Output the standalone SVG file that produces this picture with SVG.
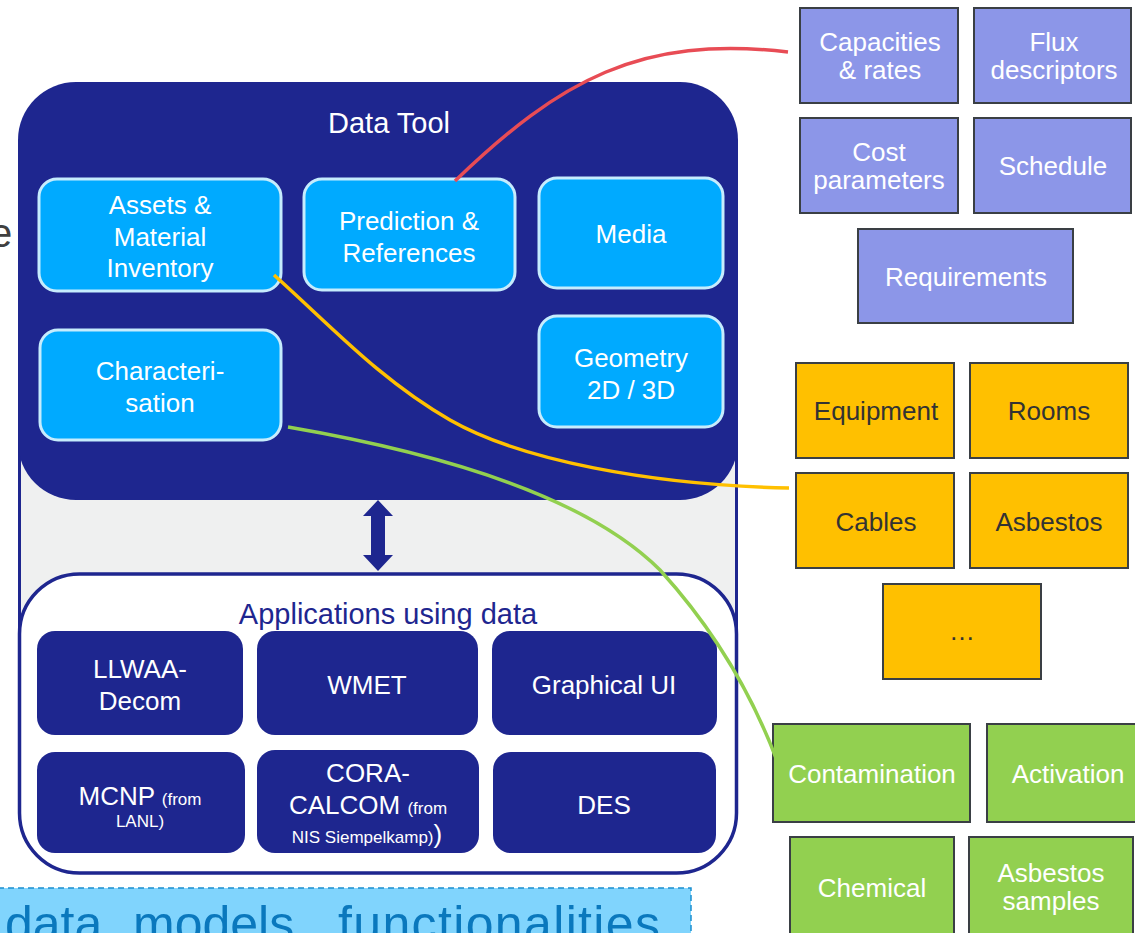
<svg xmlns="http://www.w3.org/2000/svg" width="1135" height="933" viewBox="0 0 1135 933">
<style>
text{font-family:"Liberation Sans",Arial,sans-serif;}
.wt{fill:#ffffff;font-size:26px;text-anchor:middle;}
.sm{font-size:17px;}
.dk{fill:#333333;font-size:26px;text-anchor:middle;}
.tool{fill:#00aaff;stroke:#c6ecfd;stroke-width:3;}
.app{fill:#1e268f;}
.pur{fill:#8c96e8;stroke:#3a3f44;stroke-width:2;}
.org{fill:#ffc000;stroke:#3a3f44;stroke-width:2;}
.grn{fill:#92d050;stroke:#3a3f44;stroke-width:2;}
.con{fill:none;stroke-width:3.5;stroke-linecap:butt;}
</style>
<rect width="1135" height="933" fill="#ffffff"/>
<text x="-10" y="247" style="font-size:40px;fill:#404040">e</text>

<g id="container">
<rect x="19.5" y="300" width="717" height="334" fill="#eff0f0" stroke="#1e268f" stroke-width="3"/>
</g>
<g id="data-tool">
<rect x="18" y="82" width="720" height="418" rx="58" fill="#1e268f"/>
<text x="389" y="133" style="fill:#fff;font-size:29px;text-anchor:middle">Data Tool</text>
</g>
<g id="assets">
<rect class="tool" x="39" y="179" width="242" height="112" rx="18"/>
<text class="wt" x="160" y="214">Assets &amp;</text>
<text class="wt" x="160" y="246">Material</text>
<text class="wt" x="160" y="277">Inventory</text>
</g>
<g id="prediction">
<rect class="tool" x="304" y="179" width="211" height="111" rx="18"/>
<text class="wt" x="409" y="230">Prediction &amp;</text>
<text class="wt" x="409" y="262">References</text>
</g>
<g id="media">
<rect class="tool" x="539" y="178" width="184" height="110" rx="18"/>
<text class="wt" x="631" y="243">Media</text>
</g>
<g id="characterisation">
<rect class="tool" x="40" y="330" width="241" height="110" rx="18"/>
<text class="wt" x="160" y="380">Characteri-</text>
<text class="wt" x="160" y="412">sation</text>
</g>
<g id="geometry">
<rect class="tool" x="539" y="316" width="184" height="111" rx="18"/>
<text class="wt" x="631" y="367">Geometry</text>
<text class="wt" x="631" y="399">2D / 3D</text>
</g>

<g id="double-arrow">
<polygon points="378,500 393,516 385,516 385,555 393,555 378,571 363,555 371,555 371,516 363,516" fill="#1e268f"/>
</g>

<g id="applications">
<rect x="19.5" y="574" width="717" height="299" rx="60" fill="#ffffff" stroke="#1e268f" stroke-width="3.5"/>
<text x="388" y="624" style="fill:#1e268f;font-size:29px;text-anchor:middle">Applications using data</text>
</g>
<g id="llwaa">
<rect class="app" x="37" y="631" width="206" height="104" rx="18"/>
<text class="wt" x="140" y="678">LLWAA-</text>
<text class="wt" x="140" y="710">Decom</text>
</g>
<g id="wmet">
<rect class="app" x="257" y="631" width="221" height="104" rx="18"/>
<text class="wt" x="367" y="694">WMET</text>
</g>
<g id="gui">
<rect class="app" x="492" y="631" width="225" height="104" rx="18"/>
<text class="wt" x="604" y="694">Graphical UI</text>
</g>
<g id="mcnp">
<rect class="app" x="37" y="752" width="208" height="101" rx="18"/>
<text class="wt" x="140" y="805">MCNP <tspan class="sm">(from</tspan></text>
<text class="wt sm" x="140" y="827">LANL)</text>
</g>
<g id="cora">
<rect class="app" x="257" y="750" width="222" height="103" rx="18"/>
<text class="wt" x="368" y="782">CORA-</text>
<text class="wt" x="368" y="814">CALCOM <tspan class="sm">(from</tspan></text>
<text class="wt" x="367" y="843"><tspan class="sm">NIS Siempelkamp)</tspan>)</text>
</g>
<g id="des">
<rect class="app" x="493" y="752" width="223" height="101" rx="18"/>
<text class="wt" x="604" y="814">DES</text>
</g>

<g id="capacities">
<rect class="pur" x="800" y="8" width="158" height="95"/>
<text class="wt" x="880" y="51">Capacities</text>
<text class="wt" x="880" y="79">&amp; rates</text>
</g>
<g id="flux">
<rect class="pur" x="974" y="8" width="157" height="95"/>
<text class="wt" x="1054" y="51">Flux</text>
<text class="wt" x="1054" y="79">descriptors</text>
</g>
<g id="cost">
<rect class="pur" x="800" y="118" width="158" height="95"/>
<text class="wt" x="879" y="161">Cost</text>
<text class="wt" x="879" y="189">parameters</text>
</g>
<g id="schedule">
<rect class="pur" x="974" y="118" width="157" height="95"/>
<text class="wt" x="1053" y="175">Schedule</text>
</g>
<g id="requirements">
<rect class="pur" x="858" y="229" width="215" height="94"/>
<text class="wt" x="966" y="286">Requirements</text>
</g>

<g id="equipment">
<rect class="org" x="796" y="363" width="158" height="95"/>
<text class="dk" x="876" y="420">Equipment</text>
</g>
<g id="rooms">
<rect class="org" x="970" y="363" width="158" height="95"/>
<text class="dk" x="1049" y="420">Rooms</text>
</g>
<g id="cables">
<rect class="org" x="796" y="473" width="158" height="95"/>
<text class="dk" x="876" y="531">Cables</text>
</g>
<g id="asbestos">
<rect class="org" x="970" y="473" width="158" height="95"/>
<text class="dk" x="1049" y="531">Asbestos</text>
</g>
<g id="more">
<rect class="org" x="883" y="584" width="158" height="95"/>
<text class="dk" x="962" y="640">…</text>
</g>

<g id="contamination">
<rect class="grn" x="773" y="724" width="197" height="98"/>
<text class="wt" x="872" y="783">Contamination</text>
</g>
<g id="activation">
<rect class="grn" x="987" y="724" width="150" height="98"/>
<text class="wt" x="1068" y="783">Activation</text>
</g>
<g id="chemical">
<rect class="grn" x="790" y="837" width="164" height="100"/>
<text class="wt" x="872" y="897">Chemical</text>
</g>
<g id="asbestos-samples">
<rect class="grn" x="969" y="837" width="164" height="100"/>
<text class="wt" x="1051" y="882">Asbestos</text>
<text class="wt" x="1051" y="910">samples</text>
</g>

<g id="connectors">
<path class="con" stroke="#e84c55" d="M455,181 C560,80 640,35 788,52"/>
<path class="con" stroke="#ffc000" d="M274,275 C330,325 380,380 450,420 S650,485 789,488"/>
<path class="con" stroke="#92d050" d="M288,427 C480,460 600,510 660,570 C710,625 750,690 776,758"/>
</g>

<g id="banner">
<rect x="-2" y="888" width="693" height="60" fill="#80d4fd" stroke="#1a8fd0" stroke-width="1.5" stroke-dasharray="6 4"/>
<text y="941" style="fill:#0a78bd;font-size:50px"><tspan x="5">data</tspan> <tspan x="133">models</tspan> <tspan x="338" textLength="322">functionalities</tspan></text>
</g>
</svg>
